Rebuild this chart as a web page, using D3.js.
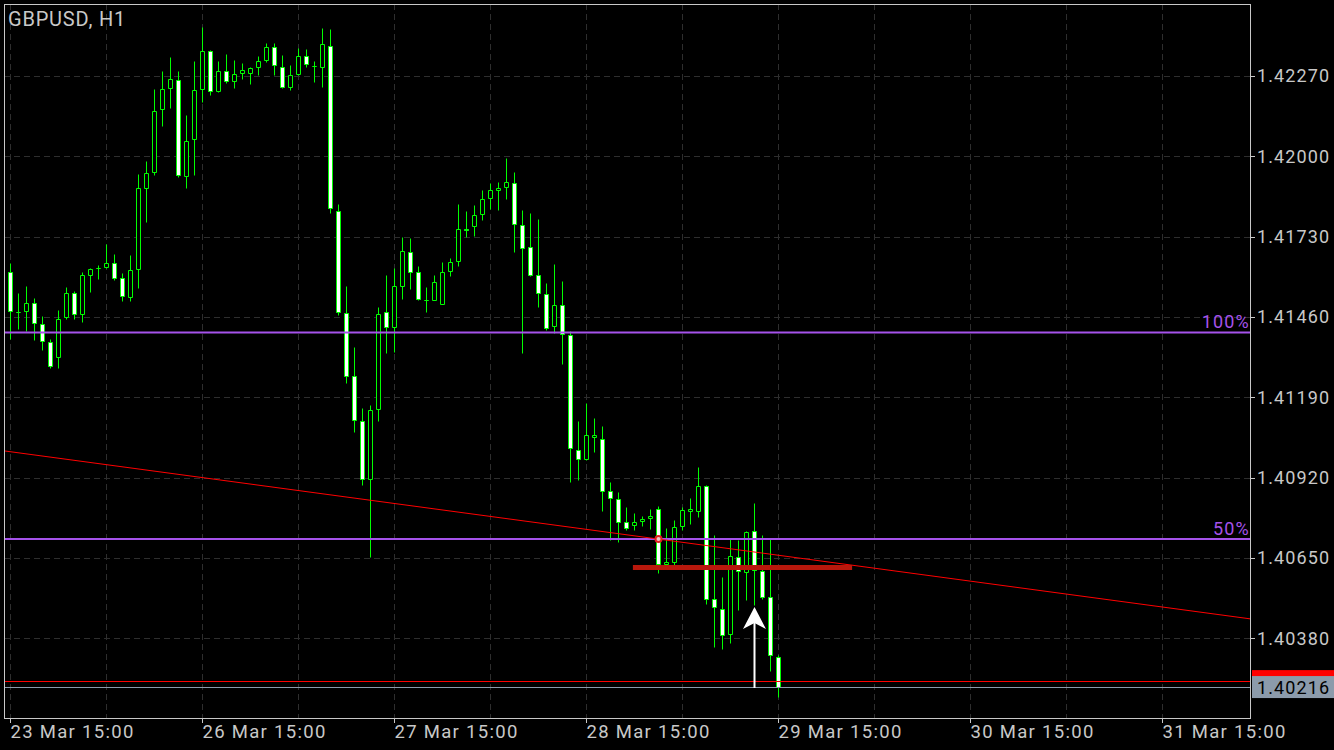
<!DOCTYPE html>
<html><head><meta charset="utf-8">
<script src="https://cdn.jsdelivr.net/npm/d3@7"></script>
<style>html,body{margin:0;padding:0;background:#000;} svg{display:block;}</style>
</head><body>
<svg id="chart" width="1334" height="750"></svg>
<script>
const symbolTitle = "GBPUSD, H1";
const opens  = [1.41611,1.41477,1.41480,1.41507,1.41436,1.41376,1.41325,1.41460,1.41540,1.41470,
1.41601,1.41624,1.41628,1.41641,1.41591,1.41527,1.41621,1.41893,1.41947,1.42159,
1.42229,1.42256,1.41934,1.42058,1.42226,1.42354,1.42219,1.42286,1.42253,1.42280,
1.42280,1.42300,1.42323,1.42367,1.42300,1.42233,1.42276,1.42337,1.42304,1.42300,
1.42370,1.41816,1.41474,1.41261,1.41110,1.40915,1.41150,1.41476,1.41426,1.41564,
1.41678,1.41611,1.41517,1.41517,1.41503,1.41614,1.41648,1.41755,1.41765,1.41806,
1.41860,1.41886,1.41897,1.41912,1.41769,1.41695,1.41601,1.41537,1.41429,1.41500,
1.41399,1.41013,1.40982,1.41056,1.41050,1.40875,1.40848,1.40771,1.40761,1.40774,
1.40784,1.40814,1.40629,1.40636,1.40757,1.40808,1.40808,1.40892,1.40512,1.40478,
1.40394,1.40653,1.40603,1.40740,1.40606,1.40519,1.40317];
const highs  = [1.41641,1.41540,1.41564,1.41523,1.41463,1.41386,1.41483,1.41560,1.41547,1.41611,
1.41624,1.41634,1.41705,1.41671,1.41607,1.41668,1.41940,1.41984,1.42226,1.42286,
1.42333,1.42286,1.42139,1.42320,1.42434,1.42357,1.42320,1.42344,1.42323,1.42313,
1.42299,1.42337,1.42381,1.42381,1.42340,1.42307,1.42364,1.42360,1.42320,1.42431,
1.42428,1.41839,1.41564,1.41359,1.41154,1.41164,1.41493,1.41601,1.41624,1.41728,
1.41725,1.41631,1.41560,1.41601,1.41644,1.41658,1.41839,1.41816,1.41836,1.41886,
1.41910,1.41913,1.41994,1.41947,1.41819,1.41809,1.41789,1.41574,1.41638,1.41581,
1.41413,1.41110,1.41171,1.41120,1.41093,1.40905,1.40871,1.40821,1.40801,1.40791,
1.40814,1.40824,1.40750,1.40777,1.40821,1.40851,1.40955,1.40895,1.40727,1.40586,
1.40713,1.40710,1.40740,1.40834,1.40727,1.40713,1.40324];
const lows   = [1.41386,1.41419,1.41413,1.41382,1.41349,1.41288,1.41288,1.41453,1.41453,1.41443,
1.41544,1.41587,1.41624,1.41584,1.41513,1.41513,1.41557,1.41779,1.41937,1.42102,
1.42162,1.41930,1.41893,1.41937,1.42182,1.42206,1.42216,1.42246,1.42229,1.42260,
1.42243,1.42273,1.42317,1.42273,1.42231,1.42222,1.42275,1.42300,1.42249,1.42233,
1.41809,1.41466,1.41238,1.41073,1.40895,1.40653,1.41110,1.41339,1.41342,1.41520,
1.41554,1.41518,1.41476,1.41516,1.41502,1.41597,1.41631,1.41728,1.41732,1.41786,
1.41823,1.41819,1.41856,1.41678,1.41339,1.41599,1.41493,1.41416,1.41406,1.41302,
1.40905,1.40912,1.40980,1.41006,1.40808,1.40710,1.40703,1.40744,1.40744,1.40757,
1.40747,1.40599,1.40627,1.40627,1.40744,1.40764,1.40787,1.40495,1.40350,1.40344,
1.40364,1.40475,1.40508,1.40492,1.40512,1.40270,1.40182];
const closes = [1.41480,1.41476,1.41507,1.41439,1.41379,1.41295,1.41453,1.41540,1.41470,1.41601,
1.41621,1.41623,1.41641,1.41591,1.41530,1.41618,1.41893,1.41944,1.42152,1.42226,
1.42260,1.41937,1.42051,1.42223,1.42354,1.42219,1.42286,1.42253,1.42276,1.42290,
1.42297,1.42320,1.42367,1.42307,1.42233,1.42273,1.42337,1.42310,1.42303,1.42377,
1.41826,1.41476,1.41261,1.41113,1.40915,1.41147,1.41470,1.41426,1.41564,1.41681,
1.41611,1.41520,1.41516,1.41577,1.41611,1.41644,1.41755,1.41754,1.41802,1.41856,
1.41886,1.41893,1.41913,1.41772,1.41692,1.41601,1.41540,1.41423,1.41500,1.41402,
1.41019,1.40982,1.41063,1.41063,1.40875,1.40851,1.40771,1.40750,1.40771,1.40781,
1.40791,1.40629,1.40636,1.40754,1.40811,1.40814,1.40892,1.40512,1.40485,1.40391,
1.40656,1.40606,1.40737,1.40609,1.40519,1.40324,1.40216];

const priceTicks = [1.42270,1.42000,1.41730,1.41460,1.41190,1.40920,1.40650,1.40380];
const dateTickBars = [0,24,48,72,96,120,144];
const dateTickLabels = ["23 Mar 15:00","26 Mar 15:00","27 Mar 15:00","28 Mar 15:00","29 Mar 15:00","30 Mar 15:00","31 Mar 15:00"];
const gridBars = [0,12,24,36,48,60,72,84,96,108,120,132,144];
const fiboLabels = ["100%","50%"];
const fiboPrices = [1.41408,1.40714];
const trendBars = [0,96];
const trendPrices = [1.41007,1.40659];
const supportBars = [77.8,105.2];
const supportPrice = 1.40618;
const markerBar = 81, markerPrice = 1.40714;
const arrowBar = 93, arrowFrom = 1.40213, arrowTo = 1.40485;
const bidPrice = 1.40216, askPrice = 1.40236;
const bidLabel = "1.40216";

const L = 4, R = 1251, T = 4, B = 718;
const FONT = "Roboto, sans-serif";
const svg = d3.select("#chart");
svg.append("rect").attr("width",1334).attr("height",750).attr("fill","#000");

const x = d3.scaleLinear().domain([0,96]).range([10.5,778.5]);
const y = d3.scaleLinear().domain([1.40112,1.42512]).range([B,T]);
const py = p => Math.round(y(p)) + 0.5;

svg.append("clipPath").attr("id","plotclip").append("rect")
  .attr("x",L).attr("y",T).attr("width",R-L).attr("height",B-T);

const grid = svg.append("g").attr("stroke","#2e2e2e").attr("stroke-dasharray","6,4").attr("stroke-width",1);
grid.selectAll(".hg").data(priceTicks).join("line")
  .attr("x1",L).attr("x2",R).attr("y1",d=>py(d)).attr("y2",d=>py(d));
grid.selectAll(".vg").data(gridBars).join("line")
  .attr("x1",d=>x(d)).attr("x2",d=>x(d)).attr("y1",T).attr("y2",B);

const plot = svg.append("g").attr("clip-path","url(#plotclip)");
const idx = d3.range(opens.length);
const cg = plot.append("g");
cg.selectAll(".wick").data(idx).join("line")
  .attr("x1",i=>x(i)).attr("x2",i=>x(i))
  .attr("y1",i=>py(highs[i])).attr("y2",i=>py(lows[i]))
  .attr("stroke","#00ff00").attr("stroke-width",1);
cg.selectAll(".body").data(idx).join("path")
  .attr("d",i=>{
    const t = py(Math.max(opens[i],closes[i])), b = py(Math.min(opens[i],closes[i]));
    const x0 = x(i)-2, x1 = x(i)+2;
    return `M${x0},${t}H${x1}V${b}H${x0}Z`;
  })
  .attr("fill",i=>closes[i] > opens[i] ? "#000" : "#fff")
  .attr("stroke","#00ff00").attr("stroke-width",1);

// fibo levels
const purple = "#a552ea";
plot.selectAll(".fib").data(fiboPrices).join("line")
  .attr("x1",L).attr("x2",R).attr("y1",d=>y(d)).attr("y2",d=>y(d))
  .attr("stroke",purple).attr("stroke-width",2);
svg.selectAll(".fibl").data(fiboPrices).join("text")
  .attr("x",R-1).attr("y",d=>y(d)-4).attr("text-anchor","end")
  .attr("font-family",FONT).attr("font-size",18).attr("letter-spacing",1.2)
  .attr("fill",purple).text((d,i)=>fiboLabels[i]);

// trend line (extended across the plot)
const slope = (trendPrices[1]-trendPrices[0])/(trendBars[1]-trendBars[0]);
const tb0 = x.invert(L), tb1 = x.invert(R);
plot.append("line")
  .attr("x1",x(tb0)).attr("y1",y(trendPrices[0]+slope*(tb0-trendBars[0])))
  .attr("x2",x(tb1)).attr("y2",y(trendPrices[0]+slope*(tb1-trendBars[0])))
  .attr("stroke","#ff0000").attr("stroke-width",1);

// support segment
plot.append("line")
  .attr("x1",x(supportBars[0])).attr("x2",x(supportBars[1]))
  .attr("y1",y(supportPrice)).attr("y2",y(supportPrice))
  .attr("stroke","#b8180c").attr("stroke-width",5);

// marker
plot.append("circle").attr("cx",x(markerBar)).attr("cy",y(markerPrice)).attr("r",3)
  .attr("fill","#f0c8c8").attr("stroke","#e02020").attr("stroke-width",2);

// ask / bid lines
plot.append("line").attr("x1",L).attr("x2",R).attr("y1",py(askPrice)).attr("y2",py(askPrice))
  .attr("stroke","#ff0000").attr("stroke-width",1);
plot.append("line").attr("x1",L).attr("x2",R).attr("y1",py(bidPrice)).attr("y2",py(bidPrice))
  .attr("stroke","#8c9bab").attr("stroke-width",1);

// arrow
const ax = x(arrowBar), ayTip = y(arrowTo), ayEnd = y(arrowFrom);
plot.append("line").attr("x1",ax).attr("x2",ax).attr("y1",ayTip+14).attr("y2",ayEnd)
  .attr("stroke","#fff").attr("stroke-width",2);
plot.append("path")
  .attr("d",`M${ax},${ayTip} L${ax+11.5},${ayTip+22} L${ax},${ayTip+16} L${ax-11.5},${ayTip+22} Z`)
  .attr("fill","#fff");

// frame
svg.append("rect").attr("x",L+0.5).attr("y",T+0.5).attr("width",R-L-1).attr("height",B-T)
  .attr("fill","none").attr("stroke","#c8c8c8").attr("stroke-width",1);

// title
svg.append("text").attr("x",8).attr("y",26).attr("font-family",FONT)
  .attr("font-size",20).attr("letter-spacing",0.8).attr("fill","#c8c8c8").text(symbolTitle);

// right axis
const axG = svg.append("g");
axG.selectAll(".pt").data(priceTicks).join("line")
  .attr("x1",R).attr("x2",R+4).attr("y1",d=>py(d)).attr("y2",d=>py(d)).attr("stroke","#c8c8c8");
axG.selectAll(".pl").data(priceTicks).join("text")
  .attr("x",R+6).attr("y",d=>y(d)).attr("dy","0.36em")
  .attr("font-family",FONT).attr("font-size",18).attr("letter-spacing",1.1)
  .attr("fill","#c8c8c8").text(d=>d.toFixed(5));

// price boxes (ask box mostly hidden behind bid box)
const boxH = 22;
axG.append("rect").attr("x",R+1).attr("y",y(askPrice)-boxH/2).attr("width",1334-R-1).attr("height",boxH).attr("fill","#ff0000");
axG.append("rect").attr("x",R+1).attr("y",y(bidPrice)-boxH/2).attr("width",1334-R-1).attr("height",boxH).attr("fill","#8c9bab");
axG.append("text").attr("x",R+6).attr("y",y(bidPrice)).attr("dy","0.36em")
  .attr("font-family",FONT).attr("font-size",18).attr("letter-spacing",1.1)
  .attr("fill","#000").text(bidLabel);

// bottom axis
axG.selectAll(".dt").data(dateTickBars).join("line")
  .attr("x1",d=>x(d)).attr("x2",d=>x(d)).attr("y1",B).attr("y2",B+5).attr("stroke","#c8c8c8");
axG.selectAll(".dl").data(dateTickBars).join("text")
  .attr("x",d=>x(d)).attr("y",738)
  .attr("font-family",FONT).attr("font-size",18.5).attr("letter-spacing",1.3)
  .attr("fill","#c8c8c8").text((d,i)=>dateTickLabels[i]);
</script>
</body></html>
